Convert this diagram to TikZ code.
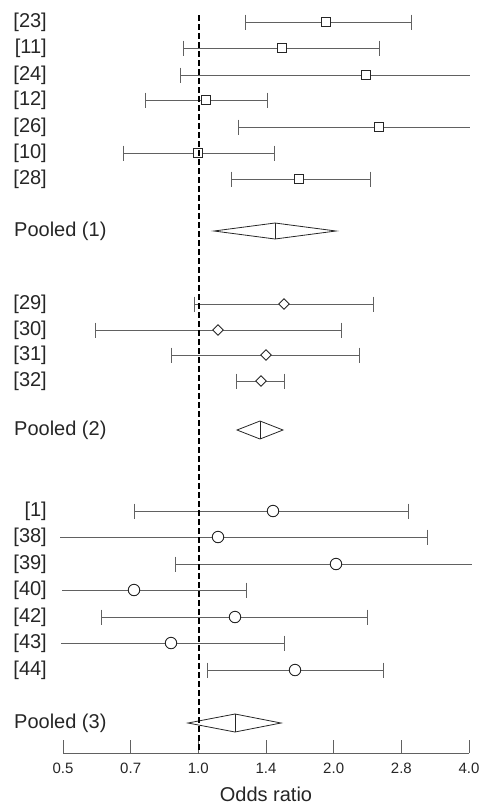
\documentclass[tikz,border=0pt]{standalone}
\usepackage{fontspec}
\setmainfont{Liberation Sans}
\usetikzlibrary{shapes.geometric}
\begin{document}
\begin{tikzpicture}[x=1pt,y=-1pt,
  bar/.style={draw=black!62, line width=0.9pt},
  pooledshape/.style={draw=black!85, line width=0.8pt},
  sqmark/.style={rectangle, draw=black!85, fill=white, line width=1pt, minimum size=8.5pt, inner sep=0pt},
  dmmark/.style={diamond, draw=black!85, fill=white, line width=0.9pt, minimum width=11pt, minimum height=11pt, inner sep=0pt},
  cmark/.style={circle, draw=black!85, fill=white, line width=0.9pt, minimum size=11.5pt, inner sep=0pt},
  lab/.style={font=\fontsize{20}{22}\selectfont, text=black!85, inner sep=0pt},
  ticklab/.style={font=\fontsize{15}{17}\selectfont, text=black!85, inner sep=0pt},
  refline/.style={draw=black, line width=1.6pt, dash pattern=on 6pt off 3pt},
  axisline/.style={draw=black!62, line width=0.9pt}
]
\path[use as bounding box] (0,0) rectangle (484,804);

% study rows: name / y / low / point / high / left cap / right cap / marker
\foreach \n/\y/\lo/\pt/\hi/\cl/\ch/\m in {
  23/22/245/326/411/1/1/sqmark,
  11/48/183/282/379/1/1/sqmark,
  24/75/180/366/470/1/0/sqmark,
  12/100/145/206/267/1/1/sqmark,
  26/127/238/379/470/1/0/sqmark,
  10/153/123/198/274/1/1/sqmark,
  28/179/231/299/370/1/1/sqmark,
  29/304/194/284/373/1/1/dmmark,
  30/330/95/218/341/1/1/dmmark,
  31/355/171/266/359/1/1/dmmark,
  32/381/236/261/284/1/1/dmmark,
  1/511/134/273/408/1/1/cmark,
  38/537/60/218/427/0/1/cmark,
  39/564/175/336/472/1/0/cmark,
  40/590/62/134/246/0/1/cmark,
  42/617/101/235/367/1/1/cmark,
  43/643/61/171/284/0/1/cmark,
  44/670/207/295/383/1/1/cmark}
{
  \coordinate (lo\n) at (\lo,\y);
  \coordinate (hi\n) at (\hi,\y);
  \draw[bar] (lo\n) -- (hi\n);
  \ifnum\cl=1 \draw[bar] ([yshift=7.5pt]lo\n) -- ([yshift=-7.5pt]lo\n); \fi
  \ifnum\ch=1 \draw[bar] ([yshift=7.5pt]hi\n) -- ([yshift=-7.5pt]hi\n); \fi
  \node[\m] (pt\n) at (\pt,\y) {};
  \node[lab, anchor=east] (lab\n) at (47,\y) {[\n]};
}

% pooled estimates: name / y / left / centre / right / half height
\foreach \k/\y/\l/\c/\r/\h in {1/231/214/275/336/8, 2/430/237/260/283/9, 3/723/188/235/281/9}
{
  \coordinate (pl\k) at (\l,\y);
  \coordinate (pr\k) at (\r,\y);
  \coordinate (pt\k) at (\c,\y-\h);
  \coordinate (pb\k) at (\c,\y+\h);
  \draw[pooledshape] (pl\k) -- (pt\k) -- (pr\k) -- (pb\k) -- cycle;
  \draw[pooledshape] (pt\k) -- (pb\k);
  \node[lab, anchor=west] (pooled\k) at (14,\y) {Pooled (\k)};
}

% axis
\coordinate (axL) at (63,753);
\coordinate (axR) at (469,753);
\draw[axisline] (axL) -- (axR);
\foreach \t [count=\i from 0] in {0.5,0.7,1.0,1.4,2.0,2.8,4.0}
{
  \coordinate (tk\i) at ({63+\i*67.667},753);
  \draw[axisline] (tk\i) -- ++(0,-13);
  \node[ticklab] (tl\i) at ({63+\i*67.667},768) {\t};
}
\node[lab, anchor=base] (xlabel) at (266,801) {Odds ratio};

% reference line at OR = 1
\coordinate (reftop) at (199,15);
\coordinate (refbot) at (199,753);
\draw[refline] (reftop) -- (refbot);
\end{tikzpicture}
\end{document}
